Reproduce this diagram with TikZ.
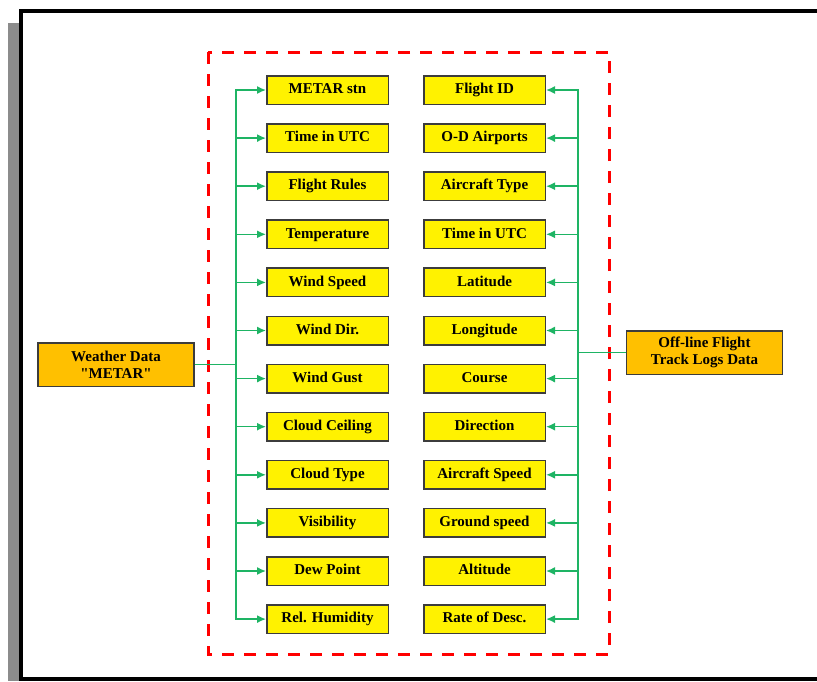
\documentclass[tikz,border=0pt]{standalone}
\usepackage{fontspec}
\setmainfont{Liberation Serif}[Ligatures=TeXOff]
\usetikzlibrary{arrows.meta, positioning}

\definecolor{linkgreen}{RGB}{30,180,100}
\definecolor{boxedge}{RGB}{60,60,60}
\definecolor{srcorange}{RGB}{255,192,0}

\begin{document}
\begin{tikzpicture}[
  x=1pt, y=-1pt,
  node distance=18.1pt and 34pt,
  every node/.style={font=\bfseries\fontsize{15}{17}\selectfont},
  field/.style={draw=boxedge, line width=1.5pt, fill=yellow, minimum width=121.5pt, minimum height=28.5pt, inner sep=1pt, text height=10.5pt, text depth=3pt, text centered},
  source/.style={draw=boxedge, line width=1.5pt, fill=srcorange, minimum width=156pt, minimum height=43.5pt, inner sep=1pt, align=center},
  arrow/.style={-{Latex[width=8pt,length=9pt]}, line width=1.5pt, draw=linkgreen},
  group/.style={draw=red, line width=3pt, dash pattern=on 12pt off 10pt}
]
\useasboundingbox (0,0) rectangle (817,681);

% Frame
\fill[gray!90] (8,23) rectangle (19,681);
\draw[line width=4pt] (819,11) -- (21,11) -- (21,679) -- (819,679);
\draw[group] (208,52) rectangle (609,654);

% Weather fields
\node[field] (stn) at (327.5,90) {METAR stn};
\node[field, below=of stn] (utcw) {Time in UTC};
\node[field, below=of utcw] (rules) {Flight Rules};
\node[field, below=of rules] (temp) {Temperature};
\node[field, below=of temp] (wspeed) {Wind Speed};
\node[field, below=of wspeed] (wdir) {Wind Dir.};
\node[field, below=of wdir] (wgust) {Wind Gust};
\node[field, below=of wgust] (ceiling) {Cloud Ceiling};
\node[field, below=of ceiling] (ctype) {Cloud Type};
\node[field, below=of ctype] (vis) {Visibility};
\node[field, below=of vis] (dew) {Dew Point};
\node[field, below=of dew] (humid) {Rel. Humidity};

% Track fields
\node[field, right=of stn] (fid) {Flight ID};
\node[field, right=of utcw] (od) {O-D Airports};
\node[field, right=of rules] (actype) {Aircraft Type};
\node[field, right=of temp] (utct) {Time in UTC};
\node[field, right=of wspeed] (lat) {Latitude};
\node[field, right=of wdir] (lon) {Longitude};
\node[field, right=of wgust] (course) {Course};
\node[field, right=of ceiling] (dir) {Direction};
\node[field, right=of ctype] (acspeed) {Aircraft Speed};
\node[field, right=of vis] (gspeed) {Ground speed};
\node[field, right=of dew] (alt) {Altitude};
\node[field, right=of humid] (rod) {Rate of Desc.};

% Sources
\node[source] (weather) at (116,364.5) {Weather Data\\"METAR"};
\node[source] (tracks) at (704.5,352.5) {Off-line Flight\\Track Logs Data};
\coordinate (wbus) at (236,0);
\coordinate (tbus) at (578,0);

% Arrows (weather data)
\draw[arrow] (weather.east) -- (weather.east -| wbus) |- (stn.west);
\draw[arrow] (weather.east) -- (weather.east -| wbus) |- (utcw.west);
\draw[arrow] (weather.east) -- (weather.east -| wbus) |- (rules.west);
\draw[arrow] (weather.east) -- (weather.east -| wbus) |- (temp.west);
\draw[arrow] (weather.east) -- (weather.east -| wbus) |- (wspeed.west);
\draw[arrow] (weather.east) -- (weather.east -| wbus) |- (wdir.west);
\draw[arrow] (weather.east) -- (weather.east -| wbus) |- (wgust.west);
\draw[arrow] (weather.east) -- (weather.east -| wbus) |- (ceiling.west);
\draw[arrow] (weather.east) -- (weather.east -| wbus) |- (ctype.west);
\draw[arrow] (weather.east) -- (weather.east -| wbus) |- (vis.west);
\draw[arrow] (weather.east) -- (weather.east -| wbus) |- (dew.west);
\draw[arrow] (weather.east) -- (weather.east -| wbus) |- (humid.west);

% Arrows (track logs)
\draw[arrow] (tracks.west) -- (tracks.west -| tbus) |- (fid.east);
\draw[arrow] (tracks.west) -- (tracks.west -| tbus) |- (od.east);
\draw[arrow] (tracks.west) -- (tracks.west -| tbus) |- (actype.east);
\draw[arrow] (tracks.west) -- (tracks.west -| tbus) |- (utct.east);
\draw[arrow] (tracks.west) -- (tracks.west -| tbus) |- (lat.east);
\draw[arrow] (tracks.west) -- (tracks.west -| tbus) |- (lon.east);
\draw[arrow] (tracks.west) -- (tracks.west -| tbus) |- (course.east);
\draw[arrow] (tracks.west) -- (tracks.west -| tbus) |- (dir.east);
\draw[arrow] (tracks.west) -- (tracks.west -| tbus) |- (acspeed.east);
\draw[arrow] (tracks.west) -- (tracks.west -| tbus) |- (gspeed.east);
\draw[arrow] (tracks.west) -- (tracks.west -| tbus) |- (alt.east);
\draw[arrow] (tracks.west) -- (tracks.west -| tbus) |- (rod.east);
\end{tikzpicture}
\end{document}
